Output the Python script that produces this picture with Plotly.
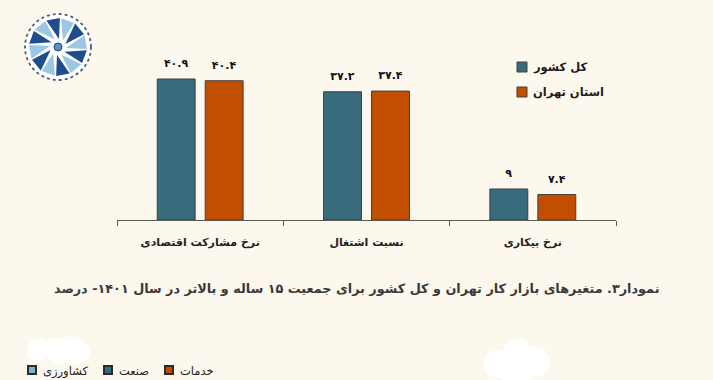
import math
import plotly.graph_objects as go

categories = ["نرخ مشارکت اقتصادی", "نسبت اشتغال", "نرخ بیکاری"]
country_values = [40.9, 37.2, 9]
tehran_values = [40.4, 37.4, 7.4]
country_labels = ["۴۰.۹", "۳۷.۲", "۹"]
tehran_labels = ["۴۰.۴", "۳۷.۴", "۷.۴"]
series_names = ["کل کشور", "استان تهران"]
title_text = "نمودار۳. متغیرهای بازار کار تهران و کل کشور برای جمعیت ۱۵ ساله و بالاتر در سال ۱۴۰۱- درصد"
bottom_legend = [("کشاورزی", "#7FB4C4", 28), ("صنعت", "#386B7C", 104), ("خدمات", "#C24E00", 165)]
COUNTRY_COLOUR = "#386B7C"
TEHRAN_COLOUR = "#C24E00"

W, H = 713, 380
L, R, T, B = 117, 616, 48, 220
BG = "#FDF8EE"
FONT = "DejaVu Sans"
TEXT = "#2b2b2b"

def px(x):
    return (x - L) / (R - L)

def py(y):
    return (B - y) / (B - T)

def poly(points, fill):
    d = "M " + " L ".join(f"{px(x):.4f},{py(y):.4f}" for x, y in points) + " Z"
    return dict(type="path", xref="paper", yref="paper", path=d, fillcolor=fill, line=dict(width=0), layer="below")

def circle(cx, cy, r, fill, line=None, lw=0, dash="solid"):
    return dict(type="circle", xref="paper", yref="paper", x0=px(cx - r), x1=px(cx + r), y0=py(cy + r), y1=py(cy - r),
                fillcolor=fill, line=dict(color=line or fill, width=lw, dash=dash), layer="below")

shapes = []
# background clouds
for cx, cy, r in [(38, 350, 11), (55, 349, 11), (72, 350, 14), (58, 354, 10), (80, 352, 10),
                  (498, 364, 14), (517, 354, 15), (535, 362, 15), (517, 372, 16)]:
    shapes.append(circle(cx, cy, r, "#FFFFFF"))

# logo
cx0, cy0 = 58, 47
shapes.append(circle(cx0, cy0, 33, "#FFFFFF", "#4d5d80", 1.8, "dot"))
for i in range(12):
    a = math.radians(-100 + i * 30)
    colour = "#1F4C8C" if i % 2 == 0 else "#9CC6E6"
    pts = [
        (cx0 + 8 * math.cos(a + 0.30), cy0 + 8 * math.sin(a + 0.30)),
        (cx0 + 29 * math.cos(a + 0.24), cy0 + 29 * math.sin(a + 0.24)),
        (cx0 + 29 * math.cos(a - 0.24), cy0 + 29 * math.sin(a - 0.24)),
    ]
    shapes.append(poly(pts, colour))
shapes.append(circle(cx0, cy0, 4, "#5E8FBF", "#1F4C8C", 1))

annotations = [
    dict(text=title_text, xref="paper", yref="paper", x=px(356), y=py(288), showarrow=False,
         font=dict(family=FONT, size=12.8, color="#3a3a3a", weight="bold"), xanchor="center", yanchor="middle"),
]
# top-right key
for name, colour, y in [(series_names[0], COUNTRY_COLOUR, 67), (series_names[1], TEHRAN_COLOUR, 92)]:
    shapes.append(dict(type="rect", xref="paper", yref="paper", x0=px(517), x1=px(527), y0=py(y + 5), y1=py(y - 5),
                       fillcolor=colour, line=dict(color="#40403c", width=1)))
    annotations.append(dict(text=name, xref="paper", yref="paper", x=px(531), y=py(y), showarrow=False,
                            xanchor="left", yanchor="middle",
                            font=dict(family=FONT, size=11.5, color="#1c1c1c", weight="bold")))
# bottom key
for name, colour, x0 in bottom_legend:
    shapes.append(dict(type="rect", xref="paper", yref="paper", x0=px(x0), x1=px(x0 + 8), y0=py(374), y1=py(366),
                       fillcolor=colour, line=dict(color="#2b2b2b", width=2)))
    annotations.append(dict(text=name, xref="paper", yref="paper", x=px(x0 + 13), y=py(371), showarrow=False,
                            xanchor="left", yanchor="middle", font=dict(family=FONT, size=11.5, color="#222222")))

fig = go.Figure()
for name, vals, labels, colour in [
    (series_names[0], country_values, country_labels, COUNTRY_COLOUR),
    (series_names[1], tehran_values, tehran_labels, TEHRAN_COLOUR),
]:
    fig.add_bar(x=categories, y=vals, name=name, marker=dict(color=colour, line=dict(color="#40403c", width=1)),
                text=[f"<span style='font-size:11px'>{t}</span><br> " for t in labels], textposition="outside", cliponaxis=False,
                textfont=dict(family=FONT, size=6, color="#111111", weight="bold"), hoverinfo="skip", showlegend=False)

fig.update_layout(
    width=W, height=H, margin=dict(l=L, r=W - R, t=T, b=H - B, autoexpand=False),
    paper_bgcolor=BG, plot_bgcolor=BG, barmode="group", bargap=0.423, bargroupgap=0.21,
    font=dict(family=FONT, color=TEXT), showlegend=False, uniformtext=dict(mode=False),
    shapes=shapes, annotations=annotations,
    xaxis=dict(type="category", tickson="boundaries", ticks="outside", ticklen=5, tickcolor="#5a5a52", tickwidth=1,
               showline=True, linecolor="#5a5a52", linewidth=1, showgrid=False, automargin=False, ticklabelstandoff=12,
               tickfont=dict(family=FONT, size=11, color="#222222", weight="bold")),
    yaxis=dict(visible=False, range=[0, 172 / (141 / 40.9)], showgrid=False, zeroline=False, fixedrange=True),
)
fig.write_html("out.html", config=dict(displayModeBar=False),
               post_script="document.body.style.margin='0';document.documentElement.style.overflow='hidden';document.body.style.background='%s';" % BG)
